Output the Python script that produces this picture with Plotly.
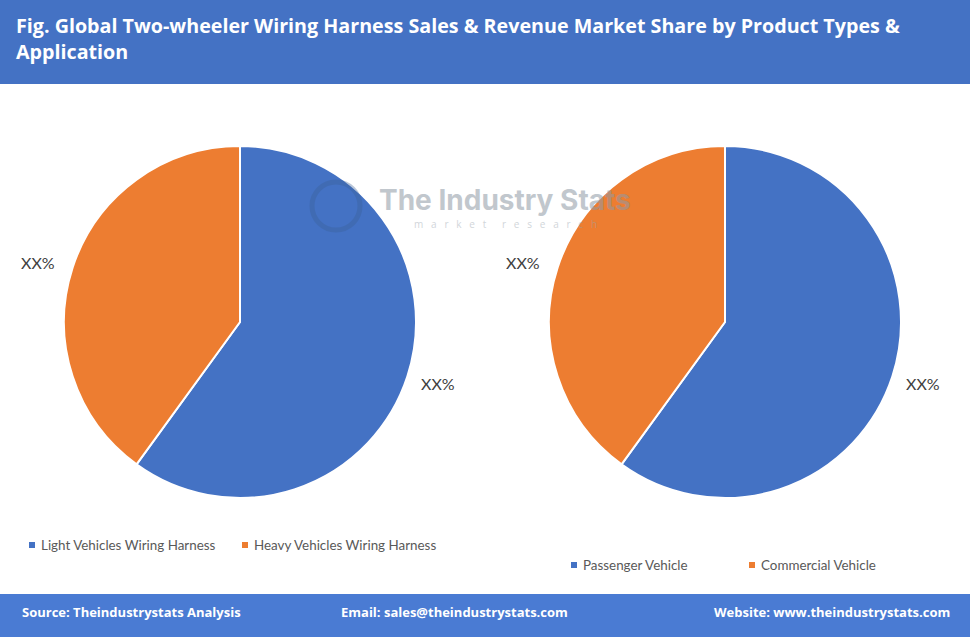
import plotly.graph_objects as go

W, H = 970, 637

title_text = "Fig. Global Two-wheeler Wiring Harness Sales & Revenue Market Share by Product Types &<br>Application"

type_labels = ["Light Vehicles Wiring Harness", "Heavy Vehicles Wiring Harness"]
type_values = [60, 40]
app_labels = ["Passenger Vehicle", "Commercial Vehicle"]
app_values = [60, 40]
slice_text = ["XX%", "XX%"]
colors = ["#4472C4", "#ED7D31"]

footer_source = "Source: Theindustrystats Analysis"
footer_email = "Email: sales@theindustrystats.com"
footer_web = "Website: www.theindustrystats.com"

def px_x(x):
    return x / W

def px_y(y):
    return 1 - y / H

fig = go.Figure()

fig.add_trace(go.Pie(
    labels=type_labels, values=type_values, sort=False, direction="clockwise", rotation=0,
    marker=dict(colors=colors, line=dict(color="white", width=2)),
    textinfo="none", hoverinfo="label+percent", showlegend=False,
    domain=dict(x=[px_x(64), px_x(416)], y=[px_y(498), px_y(146)]),
))
fig.add_trace(go.Pie(
    labels=app_labels, values=app_values, sort=False, direction="clockwise", rotation=0,
    marker=dict(colors=colors, line=dict(color="white", width=2)),
    textinfo="none", hoverinfo="label+percent", showlegend=False,
    domain=dict(x=[px_x(549), px_x(901)], y=[px_y(498), px_y(146)]),
))

shapes = [
    dict(type="rect", xref="paper", yref="paper", x0=0, x1=1, y0=px_y(84), y1=1,
         fillcolor="#4472C4", line=dict(width=0), layer="below"),
    dict(type="rect", xref="paper", yref="paper", x0=0, x1=1, y0=0, y1=px_y(594),
         fillcolor="#4A7BD3", line=dict(width=0), layer="below"),
    # watermark logo ring
    dict(type="circle", xref="paper", yref="paper", x0=px_x(312), x1=px_x(360),
         y0=px_y(230), y1=px_y(182), line=dict(color="#3a5f95", width=5), opacity=0.35),
]

annotations = [
    dict(text=title_text, x=px_x(14), y=px_y(10), xref="paper", yref="paper",
         xanchor="left", yanchor="top", align="left", showarrow=False,
         font=dict(family="Open Sans", size=19.7, color="white", weight="bold")),
    dict(text=footer_source, x=px_x(20), y=px_y(612), xref="paper", yref="paper",
         xanchor="left", yanchor="middle", showarrow=False,
         font=dict(family="Open Sans", size=13, color="white", weight="bold")),
    dict(text=footer_email, x=px_x(454), y=px_y(612), xref="paper", yref="paper",
         xanchor="center", yanchor="middle", showarrow=False,
         font=dict(family="Open Sans", size=13, color="white", weight="bold")),
    dict(text=footer_web, x=px_x(952), y=px_y(612), xref="paper", yref="paper",
         xanchor="right", yanchor="middle", showarrow=False,
         font=dict(family="Open Sans", size=13, color="white", weight="bold")),
    # watermark
    dict(text="The Industry Stats", x=px_x(505), y=px_y(200), xref="paper", yref="paper",
         xanchor="center", yanchor="middle", showarrow=False, opacity=0.55,
         font=dict(family="Inter", size=28, color="#8f9aa6", weight="bold")),
    dict(text="m   a   r   k   e   t      r   e   s   e   a   r   c   h", x=px_x(505), y=px_y(224), xref="paper", yref="paper",
         xanchor="center", yanchor="middle", showarrow=False, opacity=0.45,
         font=dict(family="Open Sans", size=10, color="#9aa4ae")),
]

label_pos = [((38, 262), (438, 384)), ((523, 262), (923, 384))]
for (p_or, p_bl) in label_pos:
    for (x, y), t in zip([p_bl, p_or], slice_text):
        annotations.append(dict(text=t, x=px_x(x), y=px_y(y), xref="paper", yref="paper",
                                xanchor="center", yanchor="middle", showarrow=False,
                                font=dict(family="Lato", size=16, color="#404040")))

# legends drawn as small squares + text
legend_rows = [
    (type_labels, [32, 245], 545),
    (app_labels, [574, 752], 565),
]
for labels, xs, y in legend_rows:
    for lab, x, c in zip(labels, xs, colors):
        shapes.append(dict(type="rect", xref="paper", yref="paper",
                           x0=px_x(x - 3), x1=px_x(x + 3), y0=px_y(y + 3), y1=px_y(y - 3),
                           fillcolor=c, line=dict(width=0)))
        annotations.append(dict(text=lab, x=px_x(x + 7), y=px_y(y), xref="paper", yref="paper",
                                xanchor="left", yanchor="middle", showarrow=False,
                                font=dict(family="Lato", size=13.4, color="#595959")))

fig.update_layout(
    width=W, height=H,
    margin=dict(l=0, r=0, t=0, b=0),
    paper_bgcolor="white", plot_bgcolor="white",
    shapes=shapes, annotations=annotations,
)

fig.write_html("out.html")
